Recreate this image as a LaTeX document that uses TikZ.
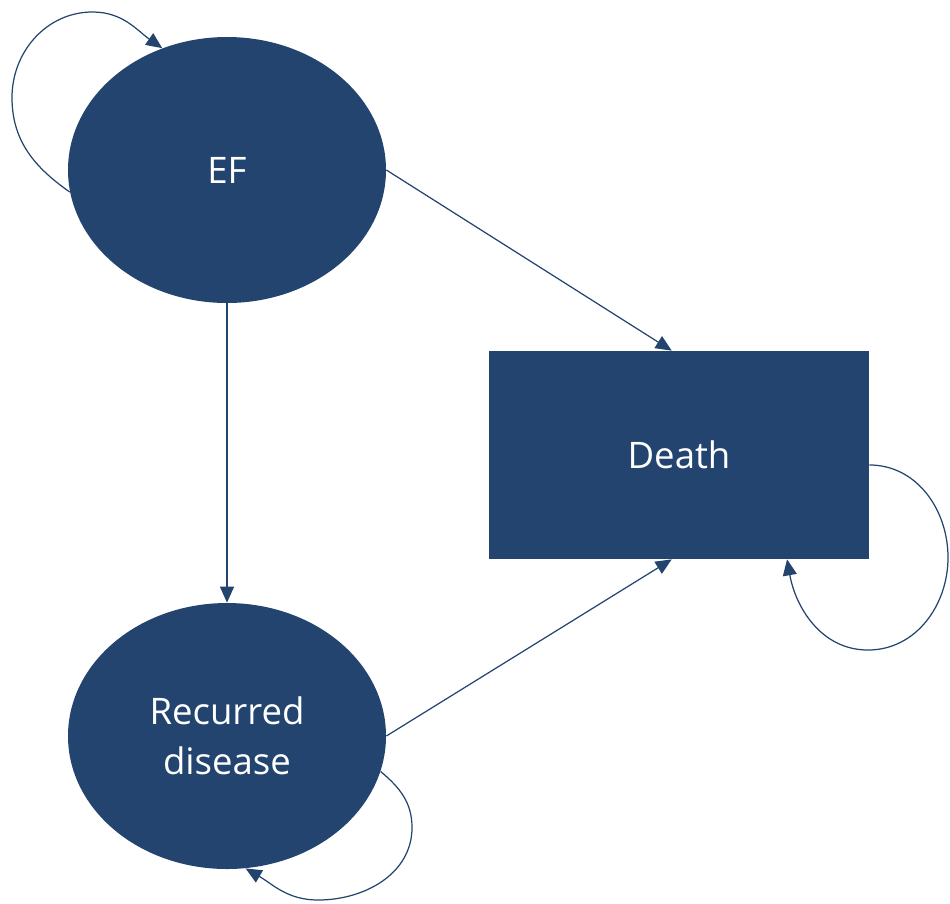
\documentclass[tikz,border=0pt]{standalone}
\usepackage{fontspec}
\setmainfont{Open Sans}
\usepackage{tikz}
\usetikzlibrary{arrows.meta,shapes.geometric}

\definecolor{statecol}{RGB}{35,68,111}

\tikzset{
  state/.style={ellipse, fill=statecol, text=white, minimum width=6.36cm,
                minimum height=5.32cm, inner sep=0pt, align=center,
                font=\fontsize{20.8}{28.4}\selectfont},
  absorb/.style={rectangle, fill=statecol, text=white, minimum width=7.6cm,
                 minimum height=4.16cm, inner sep=0pt,
                 font=\fontsize{20.8}{28.4}\selectfont},
  trans/.style={draw=statecol, line width=0.7pt,
                -{Triangle[length=0.32cm, width=0.28cm]}}
}

\begin{document}
\begin{tikzpicture}
        \useasboundingbox (0,0) rectangle (19,-18.06);                   %
        \node[state]  (ef)    at (4.54,-3.40)   {EF};                     %
        \node[state]  (rec)   at (4.54,-14.72)  {Recurred\\disease};      %
        \node[absorb] (death) at (13.58,-9.10)  {Death};                  %

        \draw[trans] (ef.east)  -- (death.94);                            %EF -> Death
        \draw[trans] (ef.south) -- (rec.north);                           %EF -> Recurred
        \draw[trans] (rec.east) -- (death.266);                           %Recurred -> Death

        \coordinate (efl) at (0.24,-1.95);                                %
        \coordinate (eft) at (1.85,-0.24);                                %
        \draw[trans] (ef.188) to[out=145,in=-90] (efl)
                     to[out=90,in=180] (eft) to[out=0,in=145] (ef.118);   %EF loop

        \coordinate (dr) at (18.96,-11.15);                               %
        \coordinate (db) at (17.36,-13.00);                               %
        \draw[trans] (death.-3) to[out=0,in=90] (dr)
                     to[out=-90,in=0] (db) to[out=180,in=-80] (death.-44);%Death loop

        \coordinate (rr) at (8.24,-16.55);                                %
        \coordinate (rb) at (6.36,-18.00);                                %
        \draw[trans] (rec.-13.5) to[out=-40,in=90] (rr)
                     to[out=-90,in=0] (rb) to[out=180,in=-30] (rec.-82.6);%Recurred loop
\end{tikzpicture}
\end{document}
